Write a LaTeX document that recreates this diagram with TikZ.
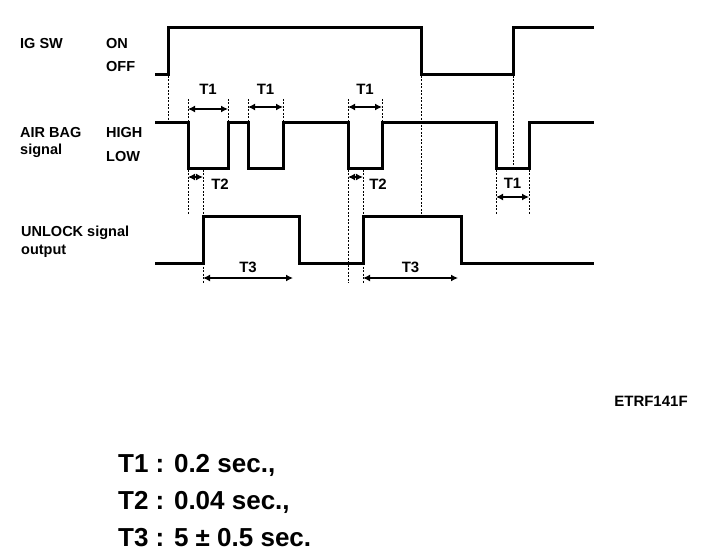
\documentclass[tikz,border=0pt]{standalone}
\usepackage{fontspec}
\setmainfont{Liberation Sans}
\usetikzlibrary{arrows.meta}

\tikzset{
	wave/.style={line width=3pt,line join=miter},
	guide/.style={dash pattern=on 2pt off 1.5pt,line width=0.9pt},
	span/.style={{Latex[length=7pt,width=7pt]}-{Latex[length=7pt,width=7pt]},line width=1.8pt},
	lbl/.style={font=\fontsize{14.5}{14.5}\selectfont\bfseries,inner sep=0pt,anchor=west},
	tlbl/.style={font=\fontsize{15}{15}\selectfont\bfseries,inner sep=0pt},
	note/.style={font=\fontsize{26}{26}\selectfont\bfseries,inner sep=0pt,anchor=west}
}

\begin{document}
\begin{tikzpicture}[x=1pt,y=-1pt]
	\useasboundingbox (0,0) rectangle (704,556);
	% signal names
	\node[lbl] (ig) at (20,44) {IG SW};
	\node[lbl] (on) at (106,44) {ON};
	\node[lbl] (off) at (106,67) {OFF};
	\node[lbl] (ab) at (20,133) {AIR BAG};
	\node[lbl] (abs) at (20,151) {signal};
	\node[lbl] (high) at (106,133) {HIGH};
	\node[lbl] (low) at (106,157) {LOW};
	\node[lbl] (ul) at (21,233) {UNLOCK signal};
	\node[lbl] (ulo) at (21,251) {output};
	%
	% edges of the waves
	\coordinate (a1) at (188,0);
	\coordinate (a2) at (228,0);
	\coordinate (a3) at (248,0);
	\coordinate (a4) at (283,0);
	\coordinate (a5) at (348,0);
	\coordinate (a6) at (382,0);
	\coordinate (a7) at (496,0);
	\coordinate (a8) at (529,0);
	\coordinate (u1) at (203,0);
	\coordinate (u2) at (299,0);
	\coordinate (u3) at (363,0);
	\coordinate (u4) at (461,0);
	%
	\draw[wave] (155,75) -- (168,75) -- (168,28) -- (421,28) -- (421,75)
		-- (513,75) -- (513,28) -- (594,28);
	\draw[wave] (155,123) -- (a1|-0,123) -- (a1|-0,169) -- (a2|-0,169) -- (a2|-0,123)
		-- (a3|-0,123) -- (a3|-0,169) -- (a4|-0,169) -- (a4|-0,123)
		-- (a5|-0,123) -- (a5|-0,169) -- (a6|-0,169) -- (a6|-0,123)
		-- (a7|-0,123) -- (a7|-0,169) -- (a8|-0,169) -- (a8|-0,123) -- (594,123);
	\draw[wave] (155,263) -- (u1|-0,263) -- (u1|-0,217) -- (u2|-0,217) -- (u2|-0,263)
		-- (u3|-0,263) -- (u3|-0,217) -- (u4|-0,217) -- (u4|-0,263) -- (594,263);
	%
	% guides
	\draw[guide] (168,76) -- (168,123);
	\draw[guide] (421,76) -- (421,217);
	\draw[guide] (513,76) -- (513,169);
	\foreach \e in {a1,a2,a3,a4,a5,a6}
		\draw[guide] (\e|-0,99) -- (\e|-0,123);
	\foreach \e in {a1,a7,a8}
		\draw[guide] (\e|-0,170) -- (\e|-0,214);
	\draw[guide] (a5|-0,170) -- (a5|-0,283);
	\foreach \e in {u1,u3}{
		\draw[guide] (\e|-0,170) -- (\e|-0,217);
		\draw[guide] (\e|-0,263) -- (\e|-0,283);
	}
	%
	% spans
	\draw[span] (a1|-0,109) -- node[tlbl,above=14pt] (t1a) {T1} (a2|-0,109);
	\draw[span] (a3|-0,107) -- node[tlbl,above=12pt] (t1b) {T1} (a4|-0,107);
	\draw[span] (a5|-0,107) -- node[tlbl,above=12pt] (t1c) {T1} (a6|-0,107);
	\draw[span] (a7|-0,197) -- node[tlbl,above=8pt] (t1d) {T1} (a8|-0,197);
	\draw[span] (a1|-0,177) -- (u1|-0,177);
	\node[tlbl] (t2a) at (220,184) {T2};
	\draw[span] (a5|-0,177) -- (u3|-0,177);
	\node[tlbl] (t2b) at (378,184) {T2};
	\draw[span] (u1|-0,278) -- node[tlbl,above=4pt] (t3a) {T3} (293,278);
	\draw[span] (u3|-0,278) -- node[tlbl,above=4pt] (t3b) {T3} (458,278);
	%
	\node[font=\fontsize{15}{15}\selectfont\bfseries,inner sep=0pt] (code) at (651,401) {ETRF141F};
	\node[note] (n1) at (118,465) {T1 : 0.2 sec.,};
	\node[note] (n2) at (118,502) {T2 : 0.04 sec.,};
	\node[note] (n3) at (118,538) {T3 : 5 ± 0.5 sec.};
\end{tikzpicture}
\end{document}
